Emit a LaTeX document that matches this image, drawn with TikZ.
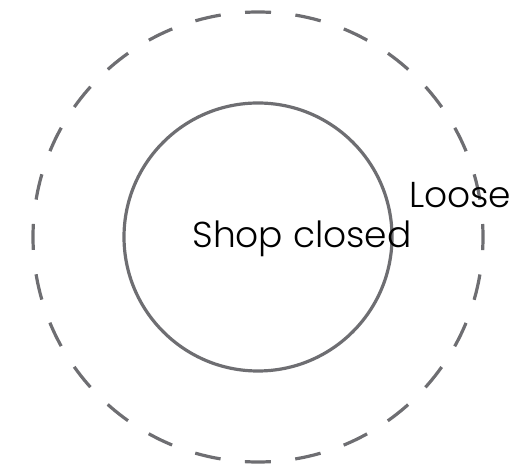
\documentclass[tikz,border=0pt]{standalone}
\usepackage{fontspec}
\setmainfont{Poppins}[UprightFont=* Light]
\begin{document}
\begin{tikzpicture}[x=1pt,y=1pt,
  ring/.style={draw=ringgray, line width=3.2pt},
  lbl/.style={inner sep=0pt, font=\fontsize{36}{42}\selectfont, text=black}]
\definecolor{ringgray}{RGB}{110,110,114}
\useasboundingbox (0,0) rectangle (526,468);
\coordinate (c) at (258,231);
\draw[ring, dash pattern=on 26pt off 24.49pt, dash phase=13pt] (c) circle (225);
\draw[ring] (c) circle (134);
\node[lbl, anchor=base] (shop) at (302,220) {Shop closed};
\node[lbl, anchor=base west] (loose) at (409,260) {Loose};
\end{tikzpicture}
\end{document}
